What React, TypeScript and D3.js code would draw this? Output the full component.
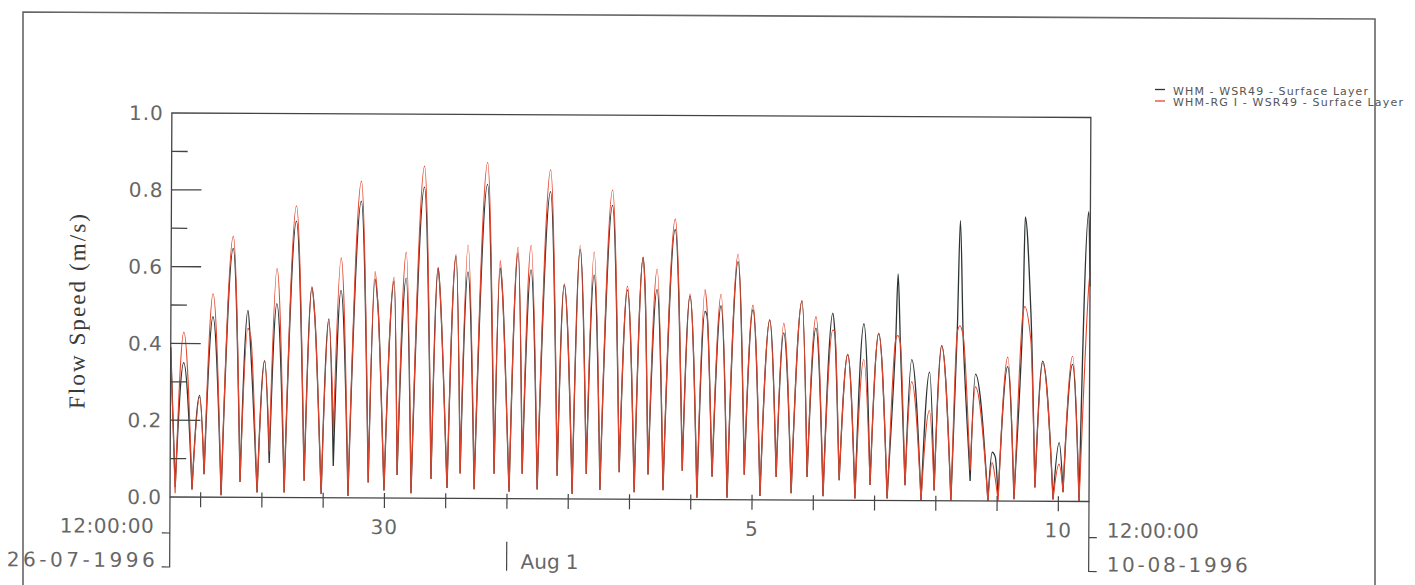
import React from "react";
import * as d3 from "d3";

// Time axis: 26-07-1996 12:00:00 to 10-08-1996 12:00:00 (UTC-based to avoid DST issues)
const startUTC = Date.UTC(1996, 6, 26, 12);
const endUTC = Date.UTC(1996, 7, 10, 12);

// Hours since start (turning points of the tidal speed curves)
const hours = [
  0, 2.0, 5.1, 8.6, 11.4, 13.3, 16.5, 20.0, 24.3, 27.4,
  30.2, 31.3, 34.1, 36.8, 38.8, 41.5, 44.7, 49.0, 52.5, 55.2,
  56.4, 59.2, 61.9, 63.9, 66.6, 69.7, 74.4, 77.6, 79.9, 81.1,
  83.8, 87.4, 88.9, 92.1, 94.4, 99.1, 102.2, 104.6, 105.4, 108.5,
  111.6, 113.6, 116.3, 119.1, 123.8, 126.9, 128.9, 129.7, 132.8, 135.9,
  137.9, 141.0, 143.8, 148.5, 151.6, 154.0, 157.5, 160.2, 163.0, 165.7,
  168.4, 172.8, 175.9, 178.8, 181.8, 184.9, 185.7, 187.2, 190.4, 193.1,
  197.4, 200.6, 203.3, 206.4, 209.2, 210.0, 212.3, 215.5, 218.2, 222.1,
  224.9, 228.0, 231.1, 234.6, 237.4, 240.1, 243.3, 247.2, 249.5, 252.7,
  255.8, 259.3, 260.1, 262.1, 265.2, 268.3, 271.5, 274.2, 277.3, 280.9,
  284.0, 284.8, 285.8, 287.9, 290.3, 294.2, 297.3, 299.3, 302.0, 305.9,
  308.1, 309.1, 310.4, 313.4, 315.3, 320.4, 322.0, 323.2, 324.4, 327.9,
  330.6, 333.8, 334.5, 336.9, 338.8, 341.6, 345.9, 348.2, 349.8, 353.3,
  356.1, 359.4, 360,
];

// WHM - WSR49 - Surface Layer (m/s)
const whm = [
  0.39, 0.026, 0.35, 0.02, 0.265, 0.06, 0.47, 0.005, 0.648, 0.04,
  0.487, 0.39, 0.013, 0.356, 0.09, 0.505, 0.013, 0.72, 0.044, 0.547,
  0.47, 0.01, 0.466, 0.083, 0.54, 0.005, 0.773, 0.04, 0.57, 0.5,
  0.02, 0.565, 0.06, 0.573, 0.013, 0.81, 0.05, 0.6, 0.54, 0.027,
  0.63, 0.065, 0.59, 0.024, 0.818, 0.065, 0.6, 0.555, 0.018, 0.64,
  0.065, 0.596, 0.024, 0.8, 0.06, 0.557, 0.013, 0.65, 0.065, 0.583,
  0.024, 0.765, 0.07, 0.545, 0.018, 0.63, 0.55, 0.065, 0.547, 0.024,
  0.703, 0.075, 0.53, 0.005, 0.49, 0.48, 0.06, 0.505, 0.005, 0.62,
  0.065, 0.495, 0.01, 0.468, 0.06, 0.435, 0.018, 0.518, 0.06, 0.448,
  0.01, 0.487, 0.44, 0.052, 0.38, 0.005, 0.46, 0.04, 0.435, 0.005,
  0.42, 0.59, 0.41, 0.04, 0.367, 0.0, 0.335, 0.027, 0.404, 0.0,
  0.45, 0.73, 0.43, 0.052, 0.33, 0.0, 0.127, 0.115, 0.013, 0.35,
  0.005, 0.49, 0.74, 0.49, 0.036, 0.365, 0.005, 0.153, 0.024, 0.357,
  0.0, 0.755, 0.56,
];

// WHM-RG I - WSR49 - Surface Layer (m/s)
const rg = [
  0.39, 0.01, 0.43, 0.02, 0.26, 0.06, 0.53, 0.005, 0.68, 0.04,
  0.44, 0.42, 0.013, 0.356, 0.12, 0.596, 0.013, 0.76, 0.044, 0.55,
  0.47, 0.01, 0.46, 0.17, 0.625, 0.005, 0.825, 0.04, 0.59, 0.5,
  0.02, 0.575, 0.06, 0.64, 0.013, 0.865, 0.05, 0.6, 0.54, 0.027,
  0.635, 0.065, 0.66, 0.024, 0.875, 0.065, 0.62, 0.555, 0.018, 0.655,
  0.065, 0.66, 0.024, 0.857, 0.06, 0.56, 0.013, 0.66, 0.065, 0.643,
  0.024, 0.805, 0.07, 0.555, 0.018, 0.63, 0.55, 0.065, 0.6, 0.024,
  0.73, 0.075, 0.535, 0.005, 0.547, 0.5, 0.06, 0.535, 0.005, 0.64,
  0.065, 0.507, 0.01, 0.47, 0.06, 0.46, 0.018, 0.52, 0.06, 0.478,
  0.01, 0.443, 0.44, 0.052, 0.38, 0.005, 0.367, 0.04, 0.435, 0.005,
  0.42, 0.43, 0.41, 0.04, 0.31, 0.0, 0.235, 0.027, 0.404, 0.0,
  0.44, 0.456, 0.43, 0.08, 0.297, 0.0, 0.1, 0.06, 0.0, 0.375,
  0.005, 0.49, 0.507, 0.42, 0.036, 0.36, 0.005, 0.097, 0.024, 0.378,
  0.0, 0.55, 0.6,
];

const seriesNames = [
  "WHM  -  WSR49  -  Surface Layer",
  "WHM-RG I  -  WSR49  -  Surface Layer",
];
const seriesColors = ["#2e3434", "#e2442b"];

const yLabelValues = [0, 0.2, 0.4, 0.6, 0.8, 1.0];
const yMajorTicks = [0.2, 0.4, 0.6, 0.8];
const yMinorTicks = [0.1, 0.3, 0.5, 0.7, 0.9];

const dayLabels = ["30", "5", "10"];
const dayLabelDates = [Date.UTC(1996, 6, 30), Date.UTC(1996, 7, 5), Date.UTC(1996, 7, 10)];
const monthLabel = "Aug 1";
const monthDate = Date.UTC(1996, 7, 1);
const startLabels = ["12:00:00", "26-07-1996"];
const endLabels = ["12:00:00", "10-08-1996"];
const yTitle = "Flow Speed (m/s)";

// Speed = |velocity|: sharp V at the minima, sine-like rounded arches at the maxima.
// Cubic Hermite through the screen points with one-sided slopes at the minima.
function speedPath(pts: [number, number][]): string {
  const n = pts.length;
  const kind = pts.map((p, i) => {
    if (i === 0 || i === n - 1) return "end";
    if (p[1] >= pts[i - 1][1] && p[1] >= pts[i + 1][1]) return "min";
    if (p[1] <= pts[i - 1][1] && p[1] <= pts[i + 1][1]) return "max";
    return "mid";
  });
  const sec = (i: number) => (pts[i + 1][1] - pts[i][1]) / (pts[i + 1][0] - pts[i][0]);
  const mL: number[] = [], mR: number[] = [];
  const k = Math.PI / 2;
  for (let i = 0; i < n; i++) {
    if (kind[i] === "max") { mL[i] = 0; mR[i] = 0; }
    else if (kind[i] === "min") {
      mL[i] = sec(i - 1) * (kind[i - 1] === "max" ? k : 1);
      mR[i] = sec(i) * (kind[i + 1] === "max" ? k : 1);
    } else if (kind[i] === "mid") {
      const a = sec(i - 1), b = sec(i);
      const m = a * b > 0 ? (2 * a * b) / (a + b) : 0;
      mL[i] = m; mR[i] = m;
    } else {
      const s = i === 0 ? sec(0) : sec(n - 2);
      mL[i] = s; mR[i] = s;
    }
  }
  const p = d3.path();
  p.moveTo(pts[0][0], pts[0][1]);
  for (let i = 0; i < n - 1; i++) {
    const [x0, y0] = pts[i], [x1, y1] = pts[i + 1];
    const h = (x1 - x0) / 3;
    p.bezierCurveTo(x0 + h, y0 + mR[i] * h, x1 - h, y1 - mL[i + 1] * h, x1, y1);
  }
  return p.toString();
}

export default function App() {
  const W = 1415, H = 585;
  const left = 170, bottom = 497, width = 919, height = 384;
  const right = left + width, top = bottom - height;

  const x = d3.scaleUtc().domain([new Date(startUTC), new Date(endUTC)]).range([left, right]);
  const y = d3.scaleLinear().domain([0, 1]).range([bottom, top]);
  const times = hours.map((h) => new Date(startUTC + h * 3600000));
  const toPoints = (vals: number[]) => vals.map((v, i) => [x(times[i]), y(v)] as [number, number]);

  const dayTicks = d3.utcDay.range(new Date(startUTC), new Date(endUTC));
  const txt = "#666";
  const axisCol = "#444";
  const font = "'DejaVu Sans', sans-serif";

  return (
    <svg width={W} height={H} style={{ position: "absolute", left: 0, top: 0, background: "#fff" }}>
      {/* outer frame */}
      <path d="M23,590 L23,12 L1375,19 L1375,590" fill="none" stroke="#666" strokeWidth={1.6} />

      {/* legend */}
      {seriesNames.map((n, i) => (
        <g key={n}>
          <line x1={1155} x2={1165} y1={89.5 + i * 11.5} y2={89.5 + i * 11.5} stroke={seriesColors[i]} strokeWidth={1.3} />
          <text x={1173} y={94.5 + i * 11.5} fontFamily={font} fontSize={11} fill="#555"
            textLength={i === 0 ? 195 : 230} lengthAdjust="spacing">{n}</text>
        </g>
      ))}

      <g transform={`rotate(0.28 ${left} ${bottom})`}>
        {/* series */}
        <path d={speedPath(toPoints(whm))} fill="none" stroke={seriesColors[0]} strokeWidth={1.3} />
        <path d={speedPath(toPoints(rg))} fill="none" stroke={seriesColors[1]} strokeWidth={1.1} />

        {/* plot frame */}
        <path d={`M${left},${bottom} L${left},${top} L${right},${top} L${right},${bottom} Z`} fill="none" stroke={axisCol} strokeWidth={1.3} />

        {/* y ticks */}
        {yMajorTicks.map((v) => (
          <line key={"M" + v} x1={left} x2={left + 30} y1={y(v)} y2={y(v)} stroke={axisCol} strokeWidth={1.3} />
        ))}
        {yMinorTicks.map((v) => (
          <line key={"m" + v} x1={left} x2={left + 16} y1={y(v)} y2={y(v)} stroke={axisCol} strokeWidth={1.3} />
        ))}
        {yLabelValues.map((v) => (
          <text key={"l" + v} x={left - 8} y={y(v)} dy="0.36em" textAnchor="end" fontFamily={font}
            fontSize={20} fill={txt} letterSpacing={1}>{d3.format(".1f")(v)}</text>
        ))}

        {/* x ticks */}
        {dayTicks.map((d) => (
          <line key={+d} x1={x(d)} x2={x(d)} y1={bottom - 5} y2={bottom + 10} stroke={axisCol} strokeWidth={1.2} />
        ))}
        {dayLabels.map((l, i) => (
          <text key={l} x={x(new Date(dayLabelDates[i]))} y={bottom + 36} textAnchor="middle" fontFamily={font}
            fontSize={20} fill={txt} letterSpacing={1}>{l}</text>
        ))}
        <line x1={x(new Date(monthDate))} x2={x(new Date(monthDate))} y1={bottom + 43} y2={bottom + 72} stroke={axisCol} strokeWidth={1.2} />
        <text x={x(new Date(monthDate)) + 14} y={bottom + 70} fontFamily={font} fontSize={20} fill={txt}
          textLength={58} lengthAdjust="spacing">{monthLabel}</text>

        {/* start bracket */}
        <path d={`M${left - 8},${bottom + 36} L${left},${bottom + 36} M${left},${bottom} L${left},${bottom + 70} L${left - 8},${bottom + 70}`}
          fill="none" stroke={axisCol} strokeWidth={1.2} />
        <text x={left - 16} y={bottom + 36} textAnchor="end" fontFamily={font} fontSize={20} fill={txt}
          textLength={94} lengthAdjust="spacing">{startLabels[0]}</text>
        <text x={left - 15} y={bottom + 70} textAnchor="end" fontFamily={font} fontSize={20} fill={txt}
          textLength={148} lengthAdjust="spacing">{startLabels[1]}</text>

        {/* end bracket */}
        <path d={`M${right + 8},${bottom + 36} L${right},${bottom + 36} M${right},${bottom} L${right},${bottom + 70} L${right + 8},${bottom + 70}`}
          fill="none" stroke={axisCol} strokeWidth={1.2} />
        <text x={right + 18} y={bottom + 36} fontFamily={font} fontSize={20} fill={txt}
          textLength={92} lengthAdjust="spacing">{endLabels[0]}</text>
        <text x={right + 18} y={bottom + 70} fontFamily={font} fontSize={20} fill={txt}
          textLength={141} lengthAdjust="spacing">{endLabels[1]}</text>

        {/* y title */}
        <text transform={`translate(84, 312) rotate(-90)`} textAnchor="middle" fontFamily="'Liberation Serif', 'Times New Roman', serif"
          fontSize={23} fill="#3a3a3a" textLength={195} lengthAdjust="spacing">{yTitle}</text>
      </g>
    </svg>
  );
}
